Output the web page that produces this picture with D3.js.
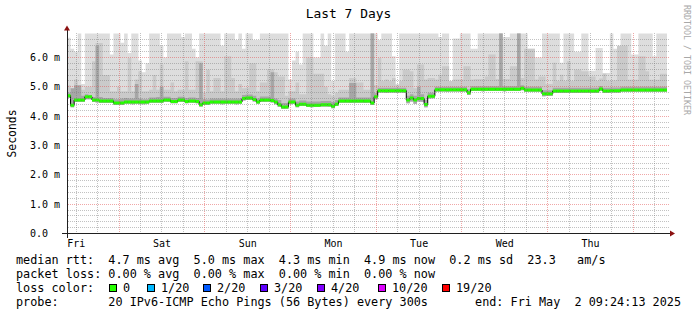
<!DOCTYPE html>
<html>
<head>
<meta charset="utf-8">
<script src="https://cdnjs.cloudflare.com/ajax/libs/d3/7.8.5/d3.min.js"></script>
<style>
  body { margin: 0; background: #ffffff; }
  text { font-family: "DejaVu Sans Mono", monospace; }
</style>
</head>
<body>
<div id="chart"></div>
<script>
// Chart data (round trip times in ms, one value per hour, 168 hours)
var median = [
  4.70,4.37,4.55,4.55,4.55,4.66,4.66,4.55,4.55,4.52,4.52,4.52,
  4.52,4.45,4.45,4.45,4.48,4.48,4.48,4.48,4.48,4.48,4.48,4.52,
  4.52,4.52,4.52,4.55,4.55,4.50,4.50,4.55,4.55,4.50,4.52,4.52,
  4.50,4.39,4.45,4.45,4.48,4.48,4.48,4.48,4.48,4.48,4.48,4.48,
  4.48,4.60,4.62,4.62,4.57,4.48,4.55,4.55,4.55,4.53,4.48,4.39,
  4.31,4.31,4.48,4.48,4.37,4.41,4.41,4.37,4.37,4.37,4.37,4.39,
  4.39,4.39,4.34,4.41,4.52,4.52,4.52,4.52,4.52,4.52,4.52,4.52,
  4.52,4.45,4.66,4.87,4.87,4.87,4.87,4.87,4.87,4.87,4.87,4.55,
  4.62,4.55,4.60,4.60,4.40,4.68,4.68,4.90,4.90,4.90,4.90,4.90,
  4.90,4.90,4.90,4.90,4.80,4.92,4.92,4.92,4.92,4.92,4.92,4.92,
  4.92,4.92,4.92,4.92,4.92,4.92,4.92,4.95,4.89,4.89,4.89,4.89,
  4.89,4.76,4.76,4.76,4.86,4.86,4.86,4.86,4.86,4.86,4.86,4.86,
  4.86,4.86,4.86,4.86,4.86,4.93,4.86,4.86,4.87,4.87,4.87,4.89,
  4.89,4.89,4.89,4.89,4.89,4.89,4.89,4.89,4.89,4.89,4.89,4.89
];

var rttMin = [
  4.62,4.30,4.48,4.48,4.48,4.58,4.58,4.48,4.47,4.45,4.45,4.45,
  4.45,4.39,4.39,4.39,4.42,4.42,4.41,4.42,4.41,4.41,4.42,4.46,
  4.46,4.46,4.45,4.49,4.48,4.44,4.44,4.48,4.48,4.44,4.46,4.45,
  4.44,4.33,4.39,4.39,4.42,4.42,4.42,4.41,4.42,4.42,4.42,4.41,
  4.42,4.53,4.55,4.55,4.50,4.42,4.48,4.48,4.49,4.47,4.41,4.32,
  4.24,4.25,4.41,4.42,4.30,4.35,4.35,4.31,4.30,4.31,4.31,4.33,
  4.33,4.32,4.27,4.35,4.46,4.46,4.46,4.45,4.46,4.46,4.46,4.45,
  4.46,4.38,4.58,4.81,4.81,4.80,4.81,4.81,4.80,4.81,4.80,4.44,
  4.50,4.42,4.50,4.49,4.30,4.60,4.61,4.84,4.84,4.84,4.83,4.84,
  4.84,4.84,4.83,4.84,4.72,4.86,4.86,4.86,4.85,4.86,4.86,4.86,
  4.86,4.86,4.85,4.86,4.86,4.86,4.86,4.88,4.83,4.83,4.83,4.83,
  4.83,4.68,4.69,4.69,4.80,4.80,4.80,4.80,4.80,4.80,4.80,4.80,
  4.80,4.80,4.80,4.80,4.80,4.87,4.80,4.80,4.81,4.81,4.81,4.83,
  4.83,4.83,4.83,4.83,4.83,4.83,4.83,4.83,4.83,4.83,4.83,4.83
];

var rttQ3 = [
  4.80,4.95,5.05,5.05,4.70,4.75,4.72,4.65,6.40,4.65,4.62,4.62,
  4.62,4.58,4.58,4.60,4.62,4.60,4.60,5.10,4.60,4.58,4.58,4.64,
  4.64,4.65,5.00,4.66,4.66,4.62,4.62,4.66,4.66,4.62,4.64,4.64,
  4.62,5.80,4.58,4.57,4.60,4.60,4.60,4.60,4.60,4.60,4.60,4.60,
  4.60,4.72,4.74,4.74,4.70,4.60,4.67,4.67,4.67,5.50,4.60,4.55,
  4.45,4.45,4.60,4.60,4.50,4.53,4.53,4.50,4.50,4.50,4.50,4.52,
  4.52,4.52,4.48,4.55,4.64,4.64,4.64,5.13,5.13,4.64,4.64,4.64,
  4.64,7.00,4.78,4.97,4.97,4.97,4.97,4.97,4.97,4.97,4.97,4.70,
  4.75,4.70,5.00,4.75,4.55,4.80,4.80,5.00,5.00,5.00,5.00,5.00,
  5.00,5.00,5.00,5.00,4.92,5.02,5.02,5.02,5.02,5.02,5.02,5.02,
  5.02,7.00,5.02,5.02,5.02,5.02,7.00,5.05,5.00,5.00,5.00,5.00,
  5.00,4.88,4.88,4.88,4.97,4.97,4.97,4.97,4.97,4.97,4.97,4.97,
  4.97,4.97,4.97,4.97,4.97,5.03,4.97,4.97,4.98,4.98,4.98,5.00,
  5.00,5.00,5.00,5.00,5.00,5.00,5.00,5.00,5.00,5.00,5.00,5.00
];

var rttP90 = [
  5.05,4.85,5.25,4.90,4.90,5.00,5.00,5.87,6.49,6.49,5.40,5.40,
  4.85,4.85,5.00,4.85,4.85,5.98,4.85,5.25,5.53,4.85,4.85,4.90,
  5.40,4.90,5.76,4.90,4.90,5.15,4.85,4.90,4.90,5.87,4.90,4.90,
  5.87,5.87,4.80,5.58,4.85,5.30,5.30,4.85,6.04,6.04,5.30,4.85,
  5.10,4.95,4.97,5.80,5.80,4.85,5.15,5.15,5.60,5.60,5.50,5.35,
  5.35,4.70,4.85,4.85,5.15,4.75,4.75,6.00,6.00,5.45,5.45,5.45,
  5.00,4.75,4.70,4.80,4.90,4.90,4.90,5.30,5.30,5.15,5.15,4.90,
  4.90,7.00,5.05,5.98,5.20,5.25,5.20,5.30,5.05,5.20,5.58,5.58,
  5.53,4.95,5.76,5.76,5.25,5.30,5.30,5.25,5.41,5.70,5.70,5.20,
  5.25,5.25,5.25,5.70,5.70,5.25,5.27,5.27,5.27,5.35,6.10,6.10,
  5.27,7.00,5.27,5.27,5.70,5.70,7.00,5.30,6.30,6.30,6.30,5.25,
  5.35,5.35,5.10,5.10,5.82,5.20,5.41,5.20,5.87,5.20,5.58,5.58,
  5.53,5.53,5.35,5.35,5.20,5.28,5.45,5.20,5.22,5.22,6.40,6.40,
  6.40,5.24,5.24,5.24,6.04,6.04,5.53,5.24,5.24,5.24,5.45,5.45
];

var rttMax = [
  6.67,6.30,6.20,7.00,5.10,7.00,7.00,7.00,7.00,7.00,7.00,7.00,
  6.10,7.00,7.00,6.50,7.00,6.15,7.00,7.00,5.90,5.50,5.80,7.00,
  7.00,7.00,6.40,6.00,7.00,7.00,7.00,7.00,6.70,7.00,7.00,6.30,
  6.00,7.00,7.00,7.00,7.00,7.00,7.00,6.40,7.00,7.00,7.00,6.60,
  7.00,6.30,7.00,7.00,6.60,6.60,7.00,7.00,7.00,7.00,7.00,7.00,
  7.00,7.00,5.25,5.90,6.20,5.76,7.00,7.00,7.00,6.00,6.00,7.00,
  6.40,7.00,5.20,7.00,7.00,7.00,6.20,7.00,7.00,7.00,7.00,7.00,
  7.00,7.00,7.00,6.60,7.00,7.00,7.00,6.04,5.10,7.00,7.00,7.00,
  7.00,7.00,7.00,7.00,7.00,7.00,7.00,7.00,6.70,7.00,7.00,5.20,
  6.65,6.65,7.00,7.00,7.00,6.30,6.30,7.00,7.00,7.00,7.00,7.00,
  7.00,7.00,6.70,6.70,7.00,7.00,7.00,7.00,7.00,6.30,6.30,6.00,
  6.00,7.00,7.00,7.00,7.00,7.00,5.82,7.00,7.00,7.00,6.20,6.20,
  7.00,7.00,5.55,5.55,6.32,6.32,5.47,5.47,7.00,6.30,6.30,7.00,
  7.00,7.00,6.10,6.10,7.00,7.00,7.00,7.00,6.04,7.00,7.00,7.00
];

// Axis labels
var dayLabels = ["Fri", "Sat", "Sun", "Mon", "Tue", "Wed", "Thu"];
var yTickValues = [0, 1, 2, 3, 4, 5, 6];
var yTickLabels = ["0.0", "1.0 m", "2.0 m", "3.0 m", "4.0 m", "5.0 m", "6.0 m"];

// Legend
var lossLabels = ["0", "1/20", "2/20", "3/20", "4/20", "10/20", "19/20"];
var lossColors = ["#26ff00", "#00b8ff", "#0059ff", "#5e00ff", "#7e00ff", "#dd00ff", "#ff0000"];
var legendRtt = "median rtt:  4.7 ms avg  5.0 ms max  4.3 ms min  4.9 ms now  0.2 ms sd  23.3   am/s";
var legendLoss = "packet loss: 0.00 % avg  0.00 % max  0.00 % min  0.00 % now";
var legendProbe = "probe:       20 IPv6-ICMP Echo Pings (56 Bytes) every 300s";
var legendEnd = "end: Fri May  2 09:24:13 2025";

var startTime = new Date(Date.UTC(2025, 3, 25, 9, 24, 13));
var endTime = new Date(Date.UTC(2025, 4, 2, 9, 24, 13));

// Canvas
var svgWidth = 697;
var svgHeight = 315;
var margin = { top: 33.5, left: 67 };
var width = 600;
var height = 200;

var svg = d3.select("#chart")
    .append("svg")
    .attr("width", svgWidth)
    .attr("height", svgHeight);

svg.append("rect")
    .attr("width", svgWidth)
    .attr("height", svgHeight)
    .attr("fill", "#ffffff");

// Scales
var x = d3.scaleUtc()
    .domain([startTime, endTime])
    .range([margin.left, margin.left + width]);

var y = d3.scaleLinear()
    .domain([0, 6.818])
    .range([margin.top + height, margin.top]);

function stepTime(i) {
    return d3.utcHour.offset(startTime, i);
}

// snap a coordinate onto a pixel centre so 1px dots stay crisp
function px(v) {
    return Math.floor(v) + 0.5;
}

svg.append("clipPath")
    .attr("id", "plotClip")
    .append("rect")
    .attr("x", margin.left)
    .attr("y", margin.top)
    .attr("width", width)
    .attr("height", height);

var plot = svg.append("g").attr("clip-path", "url(#plotClip)");

// Smoke: stacked bands from the lowest ping up to each upper quantile
var idx = d3.range(median.length + 1);
function at(arr, i) { return arr[Math.min(i, arr.length - 1)]; }

var smokeLayers = [
    { hi: rttMax, color: "#dddddd" },
    { hi: rttP90, color: "#cacaca" },
    { hi: rttQ3, color: "#a6a6a6" }
];

smokeLayers.forEach(function (layer) {
    var area = d3.area()
        .curve(d3.curveStepAfter)
        .x(i => x(stepTime(i)))
        .y0(i => y(at(rttMin, i)))
        .y1(i => y(at(layer.hi, i)));
    plot.append("path")
        .attr("d", area(idx))
        .attr("fill", layer.color);
});

// Grid (dotted, minor grey every 0.2 ms / 6 h, major red every 1 ms / day)
var minorY = d3.range(0, 34).map(k => k / 5).filter(v => Math.abs(v - Math.round(v)) > 1e-9);
var minorGridColor = "rgba(120,120,120,0.45)";
var majorGridColor = "rgba(225,80,80,0.5)";
var grid = svg.append("g");

function hLines(data, color) {
    grid.selectAll(null)
        .data(data)
        .enter()
        .append("line")
        .attr("x1", margin.left + 1)
        .attr("x2", margin.left + width + 2)
        .attr("y1", d => px(y(d)))
        .attr("y2", d => px(y(d)))
        .attr("stroke", color)
        .attr("stroke-dasharray", "1,1");
}

function vLines(data, color) {
    grid.selectAll(null)
        .data(data)
        .enter()
        .append("line")
        .attr("x1", d => px(x(d)))
        .attr("x2", d => px(x(d)))
        .attr("y1", margin.top - 0.5)
        .attr("y2", y(0))
        .attr("stroke", color)
        .attr("stroke-dasharray", "1,1");
}

hLines(minorY, minorGridColor);
vLines(d3.utcHour.every(6).range(startTime, endTime).filter(d => d.getUTCHours() !== 0), minorGridColor);
hLines(yTickValues.slice(1), majorGridColor);
vLines(d3.utcDay.range(startTime, endTime), majorGridColor);

// Median line: thin black steps with thick loss-coloured segments on top
var medLine = d3.line()
    .curve(d3.curveStepAfter)
    .x(i => x(stepTime(i)))
    .y(i => y(at(median, i)));

plot.append("path")
    .attr("d", medLine(idx))
    .attr("fill", "none")
    .attr("stroke", "#000000")
    .attr("stroke-width", 1);

plot.selectAll(".median")
    .data(median)
    .enter()
    .append("line")
    .attr("x1", (d, i) => x(stepTime(i)))
    .attr("x2", (d, i) => x(stepTime(i + 1)))
    .attr("y1", d => y(d))
    .attr("y2", d => y(d))
    .attr("stroke", lossColors[0])
    .attr("stroke-width", 3);

// Axes
var axisG = svg.append("g").attr("shape-rendering", "crispEdges");
axisG.append("line")
    .attr("x1", 62).attr("x2", margin.left + width + 4)
    .attr("y1", y(0)).attr("y2", y(0))
    .attr("stroke", "#202020");
axisG.append("line")
    .attr("x1", margin.left).attr("x2", margin.left)
    .attr("y1", y(0) + 4).attr("y2", margin.top - 4)
    .attr("stroke", "#202020");

svg.append("path")
    .attr("d", `M${margin.left - 3},${margin.top - 3}L${margin.left + 3},${margin.top - 3}L${margin.left},${margin.top - 8}Z`)
    .attr("fill", "#8b1010");
svg.append("path")
    .attr("d", `M${margin.left + width + 3},${y(0) - 3}L${margin.left + width + 3},${y(0) + 3}L${margin.left + width + 8},${y(0)}Z`)
    .attr("fill", "#8b1010");

svg.selectAll(".ylabel")
    .data(yTickValues)
    .enter()
    .append("text")
    .attr("x", 30)
    .attr("y", d => y(d) + 3.6)
    .style("font-size", "10px")
    .attr("fill", "#000")
    .text((d, i) => yTickLabels[i]);

svg.selectAll(".xlabel")
    .data(dayLabels)
    .enter()
    .append("text")
    .attr("x", (d, i) => x(d3.utcHour.offset(d3.utcDay.floor(startTime), 12 + 24 * i)))
    .attr("y", 246.5)
    .attr("text-anchor", "middle")
    .style("font-size", "10px")
    .attr("fill", "#000")
    .text(d => d);

// Titles
svg.append("text")
    .attr("x", svgWidth / 2)
    .attr("y", 18)
    .attr("text-anchor", "middle")
    .style("font-size", "12.9px")
    .text("Last 7 Days");

svg.append("text")
    .attr("transform", `translate(16, ${margin.top + height / 2}) rotate(-90)`)
    .attr("text-anchor", "middle")
    .style("font-size", "11.4px")
    .text("Seconds");

svg.append("text")
    .attr("transform", "translate(683.5, 5) rotate(90)")
    .style("font-size", "8.3px")
    .attr("fill", "#a8a8a8")
    .text("RRDTOOL / TOBI OETIKER");

// Legend
var legend = svg.append("g").style("font-size", "11.8px").attr("fill", "#000");

legend.append("text").attr("x", 16).attr("y", 264).attr("xml:space", "preserve").text(legendRtt);
legend.append("text").attr("x", 16).attr("y", 278).attr("xml:space", "preserve").text(legendLoss);
legend.append("text").attr("x", 16).attr("y", 292).text("loss color:");
legend.append("text").attr("x", 16).attr("y", 306).attr("xml:space", "preserve").text(legendProbe);
legend.append("text").attr("x", 681).attr("y", 306).attr("text-anchor", "end").attr("xml:space", "preserve").text(legendEnd);

var boxX = [109, 147, 203, 260, 317, 378, 442];
var lossItems = legend.selectAll(".loss")
    .data(lossLabels)
    .enter()
    .append("g");

lossItems.append("rect")
    .attr("x", (d, i) => boxX[i] + 0.5)
    .attr("y", 284.5)
    .attr("width", 7)
    .attr("height", 7)
    .attr("fill", (d, i) => lossColors[i])
    .attr("stroke", "#000")
    .attr("stroke-width", 1);

lossItems.append("text")
    .attr("x", (d, i) => boxX[i] + 14)
    .attr("y", 292)
    .text(d => d);
</script>
</body>
</html>
